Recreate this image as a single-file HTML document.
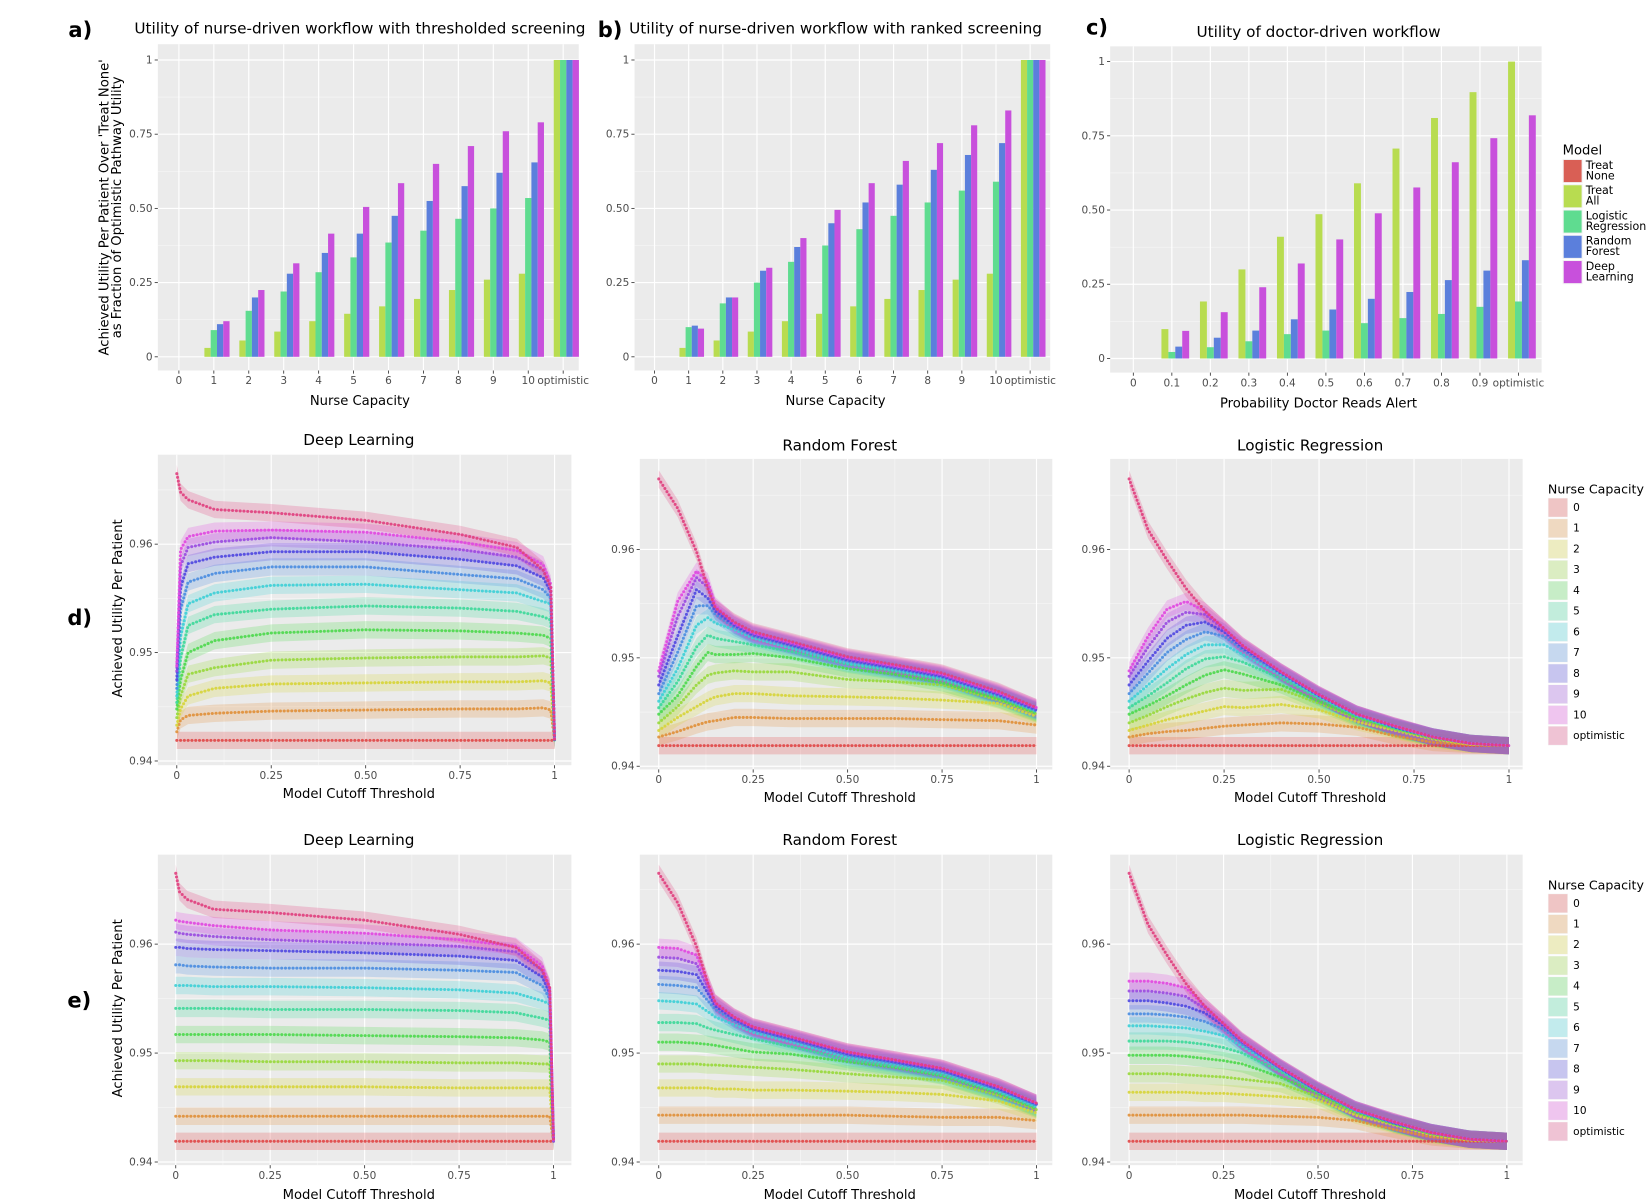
<!DOCTYPE html>
<html><head><meta charset="utf-8"><title>Workflow utility figure</title>
<style>
html,body{margin:0;padding:0;background:#fff;}
svg{display:block;font-family:"DejaVu Sans","Liberation Sans",sans-serif;}
.tk{font-size:10px;fill:#4d4d4d;}
.ax{font-size:12.5px;fill:#000;}
.tt{font-size:14.5px;fill:#000;}
.pl{font-size:20px;font-weight:bold;fill:#000;}
.lg{font-size:10.5px;fill:#000;}
</style></head>
<body>
<svg id="fig" width="1650" height="1202" viewBox="0 0 1568 1142" preserveAspectRatio="none" xmlns="http://www.w3.org/2000/svg">
<rect x="0" y="0" width="1568" height="1142" fill="#fff"/>
<text class="pl" x="65" y="35">a)</text>
<text class="pl" x="568" y="35">b)</text>
<text class="pl" x="1032" y="33">c)</text>
<text class="pl" x="64" y="594">d)</text>
<text class="pl" x="64" y="957">e)</text>
<text class="tt" x="342" y="32" text-anchor="middle">Utility of nurse-driven workflow with thresholded screening</text>
<text class="tt" x="794" y="32" text-anchor="middle">Utility of nurse-driven workflow with ranked screening</text>
<text class="tt" x="1253" y="35" text-anchor="middle">Utility of doctor-driven workflow</text>
<text class="ax" x="342" y="385" text-anchor="middle">Nurse Capacity</text>
<text class="ax" x="794" y="385" text-anchor="middle">Nurse Capacity</text>
<text class="ax" x="1253" y="387" text-anchor="middle">Probability Doctor Reads Alert</text>
<g transform="translate(103,197) rotate(-90)">
<text class="ax" x="0" y="0" text-anchor="middle">Achieved Utility Per Patient Over 'Treat None'</text>
<text class="ax" x="0" y="12" text-anchor="middle">as Fraction of Optimistic Pathway Utility</text>
</g>
<text class="tt" x="341" y="423" text-anchor="middle">Deep Learning</text>
<text class="tt" x="798" y="428" text-anchor="middle">Random Forest</text>
<text class="tt" x="1245" y="428" text-anchor="middle">Logistic Regression</text>
<text class="tt" x="341" y="803" text-anchor="middle">Deep Learning</text>
<text class="tt" x="798" y="803" text-anchor="middle">Random Forest</text>
<text class="tt" x="1245" y="803" text-anchor="middle">Logistic Regression</text>
<text class="ax" x="341" y="758" text-anchor="middle">Model Cutoff Threshold</text>
<text class="ax" x="798" y="762" text-anchor="middle">Model Cutoff Threshold</text>
<text class="ax" x="1245" y="762" text-anchor="middle">Model Cutoff Threshold</text>
<text class="ax" x="341" y="1139" text-anchor="middle">Model Cutoff Threshold</text>
<text class="ax" x="798" y="1139" text-anchor="middle">Model Cutoff Threshold</text>
<text class="ax" x="1245" y="1139" text-anchor="middle">Model Cutoff Threshold</text>
<text class="ax" transform="translate(116,578) rotate(-90)" text-anchor="middle">Achieved Utility Per Patient</text>
<text class="ax" transform="translate(116,958) rotate(-90)" text-anchor="middle">Achieved Utility Per Patient</text>
</svg>
<script>
// ---------- bar chart data ----------
const nurseCats = ['0','1','2','3','4','5','6','7','8','9','10','optimistic'];
const doctorCats = ['0','0.1','0.2','0.3','0.4','0.5','0.6','0.7','0.8','0.9','optimistic'];
const barTickVals = [0, 0.25, 0.5, 0.75, 1];
const barTickLabels = ['0', '0.25', '0.50', '0.75', '1'];
const modelNames = ['Treat None', 'Treat All', 'Logistic Regression', 'Random Forest', 'Deep Learning'];
const aTreatNone = [0,0,0,0,0,0,0,0,0,0,0,0];
const aTreatAll = [0,0.03,0.055,0.085,0.12,0.145,0.17,0.195,0.225,0.26,0.28,1];
const aLogReg = [0,0.09,0.155,0.22,0.285,0.335,0.385,0.425,0.465,0.50,0.535,1];
const aRandFor = [0,0.11,0.20,0.28,0.35,0.415,0.475,0.525,0.575,0.62,0.655,1];
const aDeepL = [0,0.12,0.225,0.315,0.415,0.505,0.585,0.65,0.71,0.76,0.79,1];
const bTreatNone = [0,0,0,0,0,0,0,0,0,0,0,0];
const bTreatAll = [0,0.03,0.055,0.085,0.12,0.145,0.17,0.195,0.225,0.26,0.28,1];
const bLogReg = [0,0.10,0.18,0.25,0.32,0.375,0.43,0.475,0.52,0.56,0.59,1];
const bRandFor = [0,0.105,0.20,0.29,0.37,0.45,0.52,0.58,0.63,0.68,0.72,1];
const bDeepL = [0,0.095,0.20,0.30,0.40,0.495,0.585,0.66,0.72,0.78,0.83,1];
const cTreatNone = [0,0,0,0,0,0,0,0,0,0,0];
const cTreatAll = [0,0.099,0.192,0.30,0.41,0.486,0.59,0.707,0.81,0.897,1];
const cLogReg = [0,0.022,0.038,0.058,0.082,0.094,0.119,0.136,0.150,0.174,0.192];
const cRandFor = [0,0.040,0.070,0.094,0.132,0.165,0.201,0.224,0.264,0.296,0.331];
const cDeepL = [0,0.093,0.156,0.240,0.320,0.401,0.489,0.576,0.661,0.742,0.819];

// ---------- line chart data ----------
const capLabels = ['0','1','2','3','4','5','6','7','8','9','10','optimistic'];
const lineTickVals = [0, 0.25, 0.5, 0.75, 1];
const lineTickLabels = ['0', '0.25', '0.50', '0.75', '1'];
const utilTickVals = [0.94, 0.95, 0.96];
const utilTickLabels = ['0.94', '0.95', '0.96'];
const ribbonHalf = 0.0008;
const thrDL = [0,0.01,0.03,0.1,0.25,0.5,0.75,0.9,0.97,0.99,1];
const dDL = [
 [.9419,.9419,.9419,.9419,.9419,.9419,.9419,.9419,.9419,.9419,.9419],
 [.9427,.9438,.9442,.9444,.9446,.9447,.9448,.9448,.9449,.9447,.9419],
 [.9433,.9448,.9460,.9467,.9471,.9472,.9473,.9473,.9474,.9472,.9419],
 [.9440,.9460,.9480,.9486,.9493,.9495,.9496,.9496,.9497,.9495,.9419],
 [.9448,.9475,.9500,.9511,.9518,.9521,.9520,.9518,.9516,.9513,.9419],
 [.9454,.9495,.9525,.9535,.9540,.9543,.9541,.9538,.9533,.9530,.9419],
 [.9460,.9515,.9545,.9555,.9562,.9563,.9558,.9555,.9547,.9545,.9419],
 [.9467,.9540,.9565,.9573,.9579,.9579,.9572,.9568,.9558,.9550,.9419],
 [.9475,.9560,.9582,.9588,.9593,.9593,.9586,.9580,.9569,.9556,.9419],
 [.9483,.9580,.9597,.9602,.9606,.9602,.9595,.9588,.9576,.9560,.9419],
 [.9488,.9595,.9607,.9612,.9613,.9611,.9602,.9594,.9581,.9563,.9419],
 [.9665,.9648,.9641,.9632,.9629,.9622,.9609,.9597,.9576,.9560,.9419]
];
const thrRF = [0,0.05,0.1,0.13,0.15,0.2,0.25,0.35,0.5,0.62,0.75,0.9,1];
const dRF = [
 [.9419,.9419,.9419,.9419,.9419,.9419,.9419,.9419,.9419,.9419,.9419,.9419,.9419],
 [.9427,.9432,.9438,.9441,.9442,.9445,.9445,.9444,.9444,.9444,.9443,.9442,.9438],
 [.9433,.9445,.9455,.9461,.9464,.9467,.9467,.9465,.9464,.9463,.9461,.9458,.9446],
 [.9440,.9455,.9475,.9484,.9486,.9488,.9487,.9487,.9480,.9478,.9475,.9461,.9448],
 [.9448,.9465,.9492,.9505,.9503,.9503,.9504,.9500,.9490,.9485,.9477,.9462,.9449],
 [.9454,.9478,.9510,.9521,.9518,.9515,.9512,.9506,.9494,.9488,.9480,.9464,.9450],
 [.9460,.9490,.9530,.9537,.9532,.9526,.9518,.9509,.9495,.9489,.9481,.9465,.9451],
 [.9467,.9505,.9548,.9548,.9540,.9528,.9520,.9511,.9497,.9490,.9482,.9465,.9451],
 [.9475,.9520,.9563,.9555,.9543,.9530,.9521,.9512,.9498,.9491,.9483,.9466,.9452],
 [.9483,.9538,.9574,.9565,.9546,.9531,.9522,.9513,.9499,.9492,.9484,.9467,.9453],
 [.9488,.9552,.9580,.9570,.9548,.9532,.9523,.9514,.9500,.9493,.9485,.9468,.9454],
 [.9665,.9638,.9598,.9564,.9546,.9533,.9524,.9515,.9501,.9494,.9486,.9469,.9454]
];
const thrLR = [0,0.05,0.1,0.15,0.2,0.25,0.3,0.4,0.5,0.6,0.7,0.8,0.9,1];
const dLR = [
 [.9419,.9419,.9419,.9419,.9419,.9419,.9419,.9419,.9419,.9419,.9419,.9419,.9419,.9419],
 [.9427,.9430,.9432,.9433,.9435,.9437,.9438,.9440,.9439,.9436,.9428,.9422,.9420,.9419],
 [.9433,.9438,.9443,.9447,.9451,.9455,.9454,.9457,.9452,.9441,.9433,.9425,.9420,.9419],
 [.9440,.9447,.9455,.9462,.9468,.9472,.9470,.9471,.9458,.9444,.9434,.9426,.9421,.9419],
 [.9448,.9456,.9465,.9475,.9484,.9489,.9485,.9475,.9460,.9445,.9435,.9426,.9421,.9419],
 [.9454,.9465,.9477,.9490,.9499,.9501,.9496,.9481,.9463,.9446,.9435,.9427,.9421,.9419],
 [.9460,.9475,.9490,.9503,.9512,.9512,.9503,.9484,.9464,.9447,.9436,.9427,.9421,.9419],
 [.9467,.9486,.9505,.9517,.9524,.9520,.9507,.9485,.9465,.9447,.9436,.9427,.9421,.9419],
 [.9475,.9497,.9518,.9530,.9533,.9524,.9509,.9486,.9465,.9448,.9436,.9427,.9421,.9419],
 [.9483,.9510,.9533,.9542,.9540,.9526,.9510,.9487,.9466,.9448,.9437,.9427,.9421,.9419],
 [.9488,.9520,.9545,.9552,.9543,.9527,.9511,.9487,.9466,.9448,.9437,.9427,.9421,.9419],
 [.9665,.9618,.9590,.9564,.9543,.9527,.9511,.9487,.9466,.9448,.9437,.9427,.9421,.9419]
];
const eDL = [
 [.9419,.9419,.9419,.9419,.9419,.9419,.9419,.9419,.9419,.9419,.9419],
 [.9442,.9442,.9442,.9442,.9442,.9442,.9442,.9442,.9442,.9442,.9419],
 [.9469,.9469,.9469,.9469,.9469,.9469,.9468,.9468,.9468,.9468,.9419],
 [.9493,.9493,.9493,.9493,.9492,.9492,.9491,.9491,.9490,.9490,.9419],
 [.9517,.9517,.9517,.9517,.9517,.9516,.9515,.9514,.9512,.9510,.9419],
 [.9541,.9541,.9541,.9541,.9540,.9540,.9539,.9537,.9532,.9530,.9419],
 [.9562,.9562,.9562,.9561,.9561,.9560,.9558,.9555,.9548,.9545,.9419],
 [.9581,.9581,.9580,.9579,.9578,.9578,.9576,.9574,.9562,.9550,.9419],
 [.9597,.9597,.9596,.9595,.9594,.9592,.9589,.9585,.9570,.9555,.9419],
 [.9611,.9610,.9609,.9607,.9604,.9601,.9598,.9593,.9576,.9558,.9419],
 [.9622,.9621,.9620,.9617,.9613,.9610,.9604,.9598,.9580,.9560,.9419],
 [.9665,.9648,.9641,.9632,.9629,.9622,.9609,.9597,.9576,.9560,.9419]
];
const eRF = [
 [.9419,.9419,.9419,.9419,.9419,.9419,.9419,.9419,.9419,.9419,.9419,.9419,.9419],
 [.9443,.9443,.9443,.9443,.9443,.9443,.9443,.9443,.9443,.9442,.9441,.9441,.9438],
 [.9468,.9468,.9468,.9468,.9467,.9467,.9466,.9466,.9465,.9464,.9462,.9456,.9445],
 [.9490,.9490,.9490,.9489,.9489,.9488,.9487,.9485,.9481,.9478,.9475,.9461,.9448],
 [.9510,.9510,.9509,.9508,.9507,.9504,.9501,.9499,.9492,.9487,.9479,.9463,.9449],
 [.9528,.9528,.9527,.9523,.9521,.9517,.9513,.9506,.9494,.9488,.9480,.9464,.9450],
 [.9548,.9547,.9545,.9538,.9533,.9526,.9519,.9510,.9496,.9490,.9482,.9465,.9451],
 [.9563,.9562,.9560,.9548,.9540,.9529,.9521,.9512,.9498,.9491,.9483,.9466,.9452],
 [.9576,.9575,.9572,.9555,.9543,.9531,.9522,.9513,.9499,.9492,.9484,.9467,.9453],
 [.9588,.9587,.9582,.9560,.9545,.9532,.9523,.9514,.9500,.9493,.9485,.9468,.9454],
 [.9597,.9596,.9590,.9564,.9546,.9533,.9524,.9515,.9501,.9494,.9486,.9469,.9454],
 [.9665,.9638,.9598,.9564,.9546,.9533,.9524,.9515,.9501,.9494,.9486,.9469,.9454]
];
const eLR = [
 [.9419,.9419,.9419,.9419,.9419,.9419,.9419,.9419,.9419,.9419,.9419,.9419,.9419,.9419],
 [.9443,.9443,.9443,.9443,.9443,.9443,.9443,.9442,.9441,.9438,.9430,.9423,.9420,.9419],
 [.9464,.9464,.9464,.9464,.9463,.9463,.9462,.9460,.9457,.9443,.9434,.9425,.9420,.9419],
 [.9481,.9481,.9481,.9480,.9479,.9478,.9476,.9472,.9460,.9445,.9435,.9426,.9421,.9419],
 [.9498,.9498,.9498,.9497,.9495,.9493,.9490,.9478,.9463,.9446,.9435,.9426,.9421,.9419],
 [.9511,.9511,.9511,.9510,.9508,.9505,.9500,.9483,.9464,.9447,.9436,.9427,.9421,.9419],
 [.9525,.9525,.9524,.9523,.9520,.9516,.9506,.9485,.9465,.9447,.9436,.9427,.9421,.9419],
 [.9536,.9536,.9535,.9533,.9529,.9522,.9508,.9486,.9465,.9447,.9436,.9427,.9421,.9419],
 [.9548,.9548,.9546,.9543,.9537,.9525,.9510,.9486,.9465,.9448,.9436,.9427,.9421,.9419],
 [.9557,.9557,.9555,.9552,.9541,.9526,.9510,.9487,.9466,.9448,.9437,.9427,.9421,.9419],
 [.9566,.9566,.9564,.9560,.9543,.9527,.9511,.9487,.9466,.9448,.9437,.9427,.9421,.9419],
 [.9665,.9618,.9590,.9564,.9543,.9527,.9511,.9487,.9466,.9448,.9437,.9427,.9421,.9419]
];

// ---------- styles ----------
const modelColors = ['#d95f55','#b8dc50','#5fdc90','#5b7fdc','#c850dc'];
const capColors = ['#e04848','#e0903a','#d6d43a','#98d83c','#4ed84e','#3ed89a','#3ecfd6','#4a8de0','#5048e0','#9a4ae0','#e048e0','#e0407e'];

const NS = 'http://www.w3.org/2000/svg';
const svg = document.getElementById('fig');
function mk(tag, attrs, parent) {
  const e = document.createElementNS(NS, tag);
  for (const k in attrs) e.setAttribute(k, attrs[k]);
  (parent || svg).appendChild(e);
  return e;
}
let clipId = 0;

function drawBarPanel(cfg) {
  const g = mk('g', {});
  
  
  const bg = mk('rect', {x: cfg.left, y: cfg.top, width: cfg.right - cfg.left, height: cfg.bottom - cfg.top, fill: '#ebebeb'}, g);
  
  
  const ys = v => cfg.y0 + (cfg.y1 - cfg.y0) * v;
  const xs = i => cfg.cx0 + cfg.step * i;
  for (let i = 0; i < barTickVals.length - 1; i++) {
    const mv = (barTickVals[i] + barTickVals[i + 1]) / 2;
    const ml = mk('line', {x1: cfg.left, x2: cfg.right, y1: ys(mv), y2: ys(mv), stroke: '#f7f7f7', 'stroke-width': 0.6}, g);
    
    
  }
  barTickVals.forEach((v, i) => {
    const gl = mk('line', {x1: cfg.left, x2: cfg.right, y1: ys(v), y2: ys(v), stroke: '#fff', 'stroke-width': 1.1}, g);
    
    
    mk('line', {x1: cfg.left - 3, x2: cfg.left, y1: ys(v), y2: ys(v), stroke: '#333', 'stroke-width': 0.8}, g);
    const t = mk('text', {x: cfg.left - 5, y: ys(v) + 3.3, 'text-anchor': 'end', class: 'tk'}, g);
    t.textContent = barTickLabels[i];
    
    
  });
  cfg.cats.forEach((c, i) => {
    const gl = mk('line', {x1: xs(i), x2: xs(i), y1: cfg.top, y2: cfg.bottom, stroke: '#fff', 'stroke-width': 1.1}, g);
    
    
    mk('line', {x1: xs(i), x2: xs(i), y1: cfg.bottom, y2: cfg.bottom + 3, stroke: '#333', 'stroke-width': 0.8}, g);
    const t = mk('text', {x: xs(i), y: cfg.bottom + 13, 'text-anchor': 'middle', class: 'tk'}, g);
    t.textContent = c;
    
    
  });
  const gw = cfg.step * 0.9, bw = gw / 5;
  cfg.series.forEach((arr, s) => {
    arr.forEach((v, i) => {
      const yTop = ys(v), yBase = ys(0);
      const r = mk('rect', {x: xs(i) - gw / 2 + s * bw, y: Math.min(yTop, yBase), width: bw, height: Math.abs(yBase - yTop), fill: modelColors[s]}, g);
      
      
    });
  });
}

drawBarPanel({name: 'chart-a-thresholded', left: 150, right: 550, top: 42, bottom: 352, y0: 339, y1: 57, cx0: 170, step: 33.2, cats: nurseCats, series: [aTreatNone, aTreatAll, aLogReg, aRandFor, aDeepL]});
drawBarPanel({name: 'chart-b-ranked', left: 603, right: 998, top: 42, bottom: 352, y0: 339, y1: 57, cx0: 622, step: 32.45, cats: nurseCats, series: [bTreatNone, bTreatAll, bLogReg, bRandFor, bDeepL]});
drawBarPanel({name: 'chart-c-doctor', left: 1055, right: 1465, top: 44, bottom: 354, y0: 340.6, y1: 58.5, cx0: 1077, step: 36.6, cats: doctorCats, series: [cTreatNone, cTreatAll, cLogReg, cRandFor, cDeepL]});

function drawLinePanel(cfg) {
  const g = mk('g', {});
  
  
  const bg = mk('rect', {x: cfg.left, y: cfg.top, width: cfg.right - cfg.left, height: cfg.bottom - cfg.top, fill: '#ebebeb'}, g);
  
  
  const xs = t => cfg.x0 + (cfg.x1 - cfg.x0) * t;
  const ys = v => cfg.y94 + (cfg.y96 - cfg.y94) * (v - 0.94) / 0.02;
  [0.935, 0.945, 0.955, 0.965].forEach(v => {
    const y = ys(v);
    if (y > cfg.top && y < cfg.bottom) {
      const ml = mk('line', {x1: cfg.left, x2: cfg.right, y1: y, y2: y, stroke: '#f7f7f7', 'stroke-width': 0.6}, g);
      
      
    }
  });
  [0.125, 0.375, 0.625, 0.875].forEach(t => {
    const ml = mk('line', {x1: xs(t), x2: xs(t), y1: cfg.top, y2: cfg.bottom, stroke: '#f7f7f7', 'stroke-width': 0.6}, g);
    
    
  });
  utilTickVals.forEach((v, i) => {
    const gl = mk('line', {x1: cfg.left, x2: cfg.right, y1: ys(v), y2: ys(v), stroke: '#fff', 'stroke-width': 1.1}, g);
    
    
    mk('line', {x1: cfg.left - 3, x2: cfg.left, y1: ys(v), y2: ys(v), stroke: '#333', 'stroke-width': 0.8}, g);
    const t = mk('text', {x: cfg.left - 5, y: ys(v) + 3.3, 'text-anchor': 'end', class: 'tk'}, g);
    t.textContent = utilTickLabels[i];
    
    
  });
  lineTickVals.forEach((v, i) => {
    const gl = mk('line', {x1: xs(v), x2: xs(v), y1: cfg.top, y2: cfg.bottom, stroke: '#fff', 'stroke-width': 1.1}, g);
    
    
    mk('line', {x1: xs(v), x2: xs(v), y1: cfg.bottom, y2: cfg.bottom + 3, stroke: '#333', 'stroke-width': 0.8}, g);
    const t = mk('text', {x: xs(v), y: cfg.bottom + 13, 'text-anchor': 'middle', class: 'tk'}, g);
    t.textContent = lineTickLabels[i];
    
    
  });
  clipId++;
  const cp = mk('clipPath', {id: 'clip' + clipId}, g);
  mk('rect', {x: cfg.left, y: cfg.top, width: cfg.right - cfg.left, height: cfg.bottom - cfg.top}, cp);
  const data = mk('g', {'clip-path': 'url(#clip' + clipId + ')'}, g);
  cfg.values.forEach((arr, k) => {
    let up = '', lo = [];
    arr.forEach((v, i) => {
      up += (i ? 'L' : 'M') + xs(cfg.thr[i]).toFixed(2) + ',' + ys(v + ribbonHalf).toFixed(2);
      lo.push('L' + xs(cfg.thr[i]).toFixed(2) + ',' + ys(v - ribbonHalf).toFixed(2));
    });
    const rb = mk('path', {d: up + lo.reverse().join('') + 'Z', fill: capColors[k], 'fill-opacity': 0.24}, data);
    
    
  });
  cfg.values.forEach((arr, k) => {
    const pts = arr.map((v, i) => xs(cfg.thr[i]).toFixed(2) + ',' + ys(v).toFixed(2)).join(' ');
    const ln = mk('polyline', {points: pts, fill: 'none', stroke: capColors[k], 'stroke-opacity': 0.35, 'stroke-width': 0.6}, data);
    
    
    const dots = mk('polyline', {points: pts, fill: 'none', stroke: capColors[k], 'stroke-opacity': 0.9, 'stroke-width': 2.9, 'stroke-linecap': 'round', 'stroke-dasharray': '0 3.6'}, data);
    
    
  });
}

drawLinePanel({name: 'chart-d-deep-learning', left: 150, right: 543, top: 432, bottom: 727, x0: 168, x1: 527, y96: 517, y94: 723, thr: thrDL, values: dDL});
drawLinePanel({name: 'chart-d-random-forest', left: 608, right: 1000, top: 436, bottom: 731, x0: 626, x1: 985, y96: 522, y94: 728, thr: thrRF, values: dRF});
drawLinePanel({name: 'chart-d-logistic-regression', left: 1055, right: 1447, top: 436, bottom: 731, x0: 1073, x1: 1434, y96: 522, y94: 728, thr: thrLR, values: dLR});
drawLinePanel({name: 'chart-e-deep-learning', left: 150, right: 543, top: 812, bottom: 1107, x0: 167, x1: 526, y96: 897, y94: 1104, thr: thrDL, values: eDL});
drawLinePanel({name: 'chart-e-random-forest', left: 608, right: 1000, top: 812, bottom: 1107, x0: 626, x1: 985, y96: 897, y94: 1104, thr: thrRF, values: eRF});
drawLinePanel({name: 'chart-e-logistic-regression', left: 1055, right: 1447, top: 812, bottom: 1107, x0: 1073, x1: 1432, y96: 897, y94: 1104, thr: thrLR, values: eLR});

// ---------- legends ----------
const lgM = mk('g', {});


const mt = mk('text', {x: 1485, y: 147, style: 'font-size:12.5px'}, lgM);
mt.textContent = 'Model';


modelNames.forEach((n, i) => {
  const y = 151 + i * 24;
  mk('rect', {x: 1485, y: y, width: 19, height: 23, fill: '#f2f2f2'}, lgM);
  const k = mk('rect', {x: 1486, y: y + 1, width: 17, height: 21, fill: modelColors[i]}, lgM);
  
  
  const parts = n.split(' ');
  const first = parts[0];
  const rest = parts.slice(1).join(' ');
  const t1 = mk('text', {x: 1507, y: y + 9.5, class: 'lg'}, lgM);
  t1.textContent = first;
  
  
  const t2 = mk('text', {x: 1507, y: y + 19.5, class: 'lg'}, lgM);
  t2.textContent = rest;
  
  
});

function capLegend(top, name) {
  const lg = mk('g', {});
  
  
  const tt = mk('text', {x: 1471, y: top - 4, style: 'font-size:12px'}, lg);
  tt.textContent = 'Nurse Capacity';
  
  
  capLabels.forEach((c, i) => {
    const y = top + i * 19.7;
    mk('rect', {x: 1471, y: y, width: 19, height: 18.5, fill: '#f5f5f5'}, lg);
    const k = mk('rect', {x: 1471.5, y: y + 0.5, width: 18, height: 17.5, fill: capColors[i], 'fill-opacity': 0.28}, lg);
    
    
    const t = mk('text', {x: 1495, y: y + 12.5, class: 'lg', style: 'font-size:10px'}, lg);
    t.textContent = c;
    
    
  });
}
capLegend(473, 'nurse-capacity-legend-d');
capLegend(849, 'nurse-capacity-legend-e');
</script>
</body></html>
